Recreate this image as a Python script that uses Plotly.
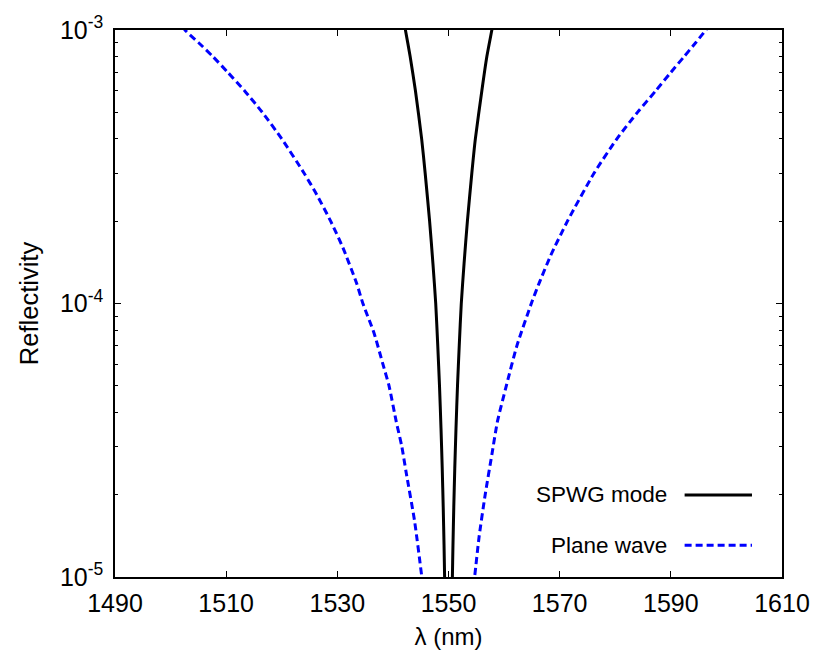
import plotly.graph_objects as go

# SPWG mode (black, solid)
spwg_wl = [1541.3, 1542.25, 1543.1, 1544.05, 1545.17, 1545.8, 1546.6, 1547.2, 1547.7, 1548.07, 1548.38,
           1548.65, 1548.87, 1549.05, 1549.2, 1549.3, 1549.65, 1550.0,
           1550.35, 1550.7, 1550.8, 1550.95, 1551.13, 1551.35, 1551.62, 1551.93, 1552.3, 1552.8, 1553.4,
           1554.2, 1554.83, 1556.0, 1556.9, 1557.8, 1558.7]
spwg_R = [1.25e-3, 1.0e-3, 8e-4, 6e-4, 4e-4, 3e-4, 2e-4, 1.4e-4, 1e-4, 7e-5, 5e-5,
          3.5e-5, 2.5e-5, 1.8e-5, 1.3e-5, 1.0e-5, 4e-6, 5e-7,
          4e-6, 1.0e-5, 1.3e-5, 1.8e-5, 2.5e-5, 3.5e-5, 5e-5, 7e-5, 1e-4, 1.4e-4, 2e-4,
          3e-4, 4e-4, 6e-4, 8e-4, 1.0e-3, 1.25e-3]

# Plane wave (blue, dashed)
pw_wl = [1500.0, 1502.6, 1505.0, 1507.6, 1510.3, 1513.3, 1516.5, 1520.0, 1524.0, 1526.3, 1528.8, 1531.0,
         1533.5, 1534.6, 1536.6, 1538.2, 1539.3, 1540.6, 1541.6, 1542.4, 1543.9, 1545.2, 1547.0, 1550.0,
         1553.0, 1554.7, 1555.5, 1556.6, 1557.8, 1558.8, 1560.4, 1562.3, 1564.9, 1566.4, 1568.4, 1571.4,
         1576.2, 1580.3, 1584.0, 1587.3, 1590.0, 1592.4, 1594.5, 1596.3, 1599.3]
pw_R = [1.2e-3, 1.0e-3, 9e-4, 8e-4, 7e-4, 6e-4, 5e-4, 4e-4, 3e-4, 2.5e-4, 2e-4, 1.6e-4,
        1.18e-4, 1e-4, 7.8e-5, 6e-5, 5e-5, 3.7e-5, 3e-5, 2.4e-5, 1.6e-5, 1.0e-5, 5e-6, 5e-7,
        5e-6, 1.0e-5, 1.4e-5, 2e-5, 2.8e-5, 3.7e-5, 5e-5, 7e-5, 1e-4, 1.2e-4, 1.5e-4, 2e-4,
        3e-4, 4e-4, 5e-4, 6e-4, 7e-4, 8e-4, 9e-4, 1.0e-3, 1.2e-3]

x_ticks = [1490, 1510, 1530, 1550, 1570, 1590, 1610]
y_tickvals = [1e-5, 1e-4, 1e-3]
y_ticktext = ["10<sup>-5</sup>", "10<sup>-4</sup>", "10<sup>-3</sup>"]
legend_names = ["SPWG mode", "Plane wave"]

FONT = "Liberation Sans, Arial, Helvetica, sans-serif"

fig = go.Figure()
fig.add_trace(go.Scatter(x=spwg_wl, y=spwg_R, mode="lines", name=legend_names[0],
                         line=dict(color="black", width=3, shape="spline", smoothing=0.6), showlegend=False))
fig.add_trace(go.Scatter(x=pw_wl, y=pw_R, mode="lines", name=legend_names[1],
                         line=dict(color="#0000ff", width=3, dash="7px,4px", shape="spline", smoothing=0.6),
                         showlegend=False))

# manual legend (text left of sample line)
leg_y = [0.150, 0.058]
leg_styles = [dict(color="black", width=3), dict(color="#0000ff", width=3, dash="7px,4px")]
for name, yy, st in zip(legend_names, leg_y, leg_styles):
    fig.add_annotation(x=0.831, y=yy, xref="paper", yref="paper", text=name, showarrow=False,
                       xanchor="right", yanchor="middle", font=dict(size=22.5, color="black", family=FONT))
    fig.add_shape(type="line", xref="paper", yref="paper", x0=0.854, x1=0.955, y0=yy, y1=yy, line=st)

fig.update_layout(
    width=822, height=659,
    margin=dict(l=115, r=39, t=23, b=82),
    paper_bgcolor="white", plot_bgcolor="white",
    font=dict(family=FONT, size=25, color="black"),
)
fig.update_xaxes(
    range=[1490, 1610], tickvals=x_ticks, ticks="inside", ticklen=6, tickwidth=1, tickcolor="black",
    showline=True, linecolor="black", linewidth=1.5, mirror="allticks", showgrid=False, zeroline=False,
    tickfont=dict(size=25), ticklabelstandoff=3,
    title=dict(text="λ (nm)", font=dict(size=24), standoff=12),
)
fig.update_yaxes(
    type="log", range=[-5, -3], tickvals=y_tickvals, ticktext=y_ticktext,
    ticks="inside", ticklen=6, tickwidth=1, tickcolor="black",
    minor=dict(ticks="inside", ticklen=3, tickcolor="black", dtick="D1"),
    showline=True, linecolor="black", linewidth=1.5, mirror="allticks", showgrid=False, zeroline=False,
    tickfont=dict(size=25), ticklabelstandoff=5,
    title=dict(text="Reflectivity", font=dict(size=25.5), standoff=14),
)

fig.write_html("out.html")
